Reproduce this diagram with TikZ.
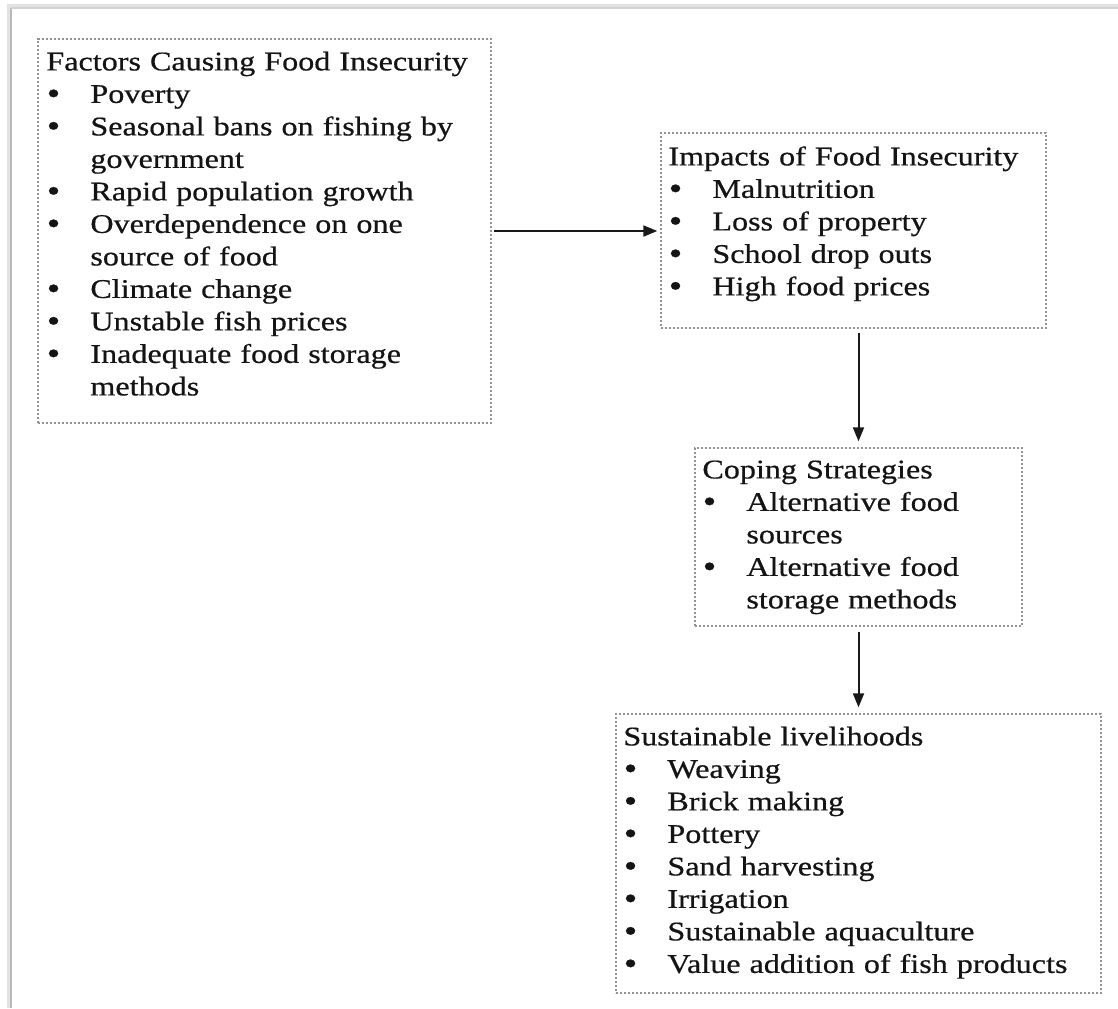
\documentclass[tikz,border=0pt]{standalone}
\usepackage{fontspec}
\setmainfont{Liberation Serif}[FakeStretch=1.19, FakeBold=0.6]
\usetikzlibrary{fit,arrows.meta}
\newcommand{\bl}{\makebox[22pt][l]{\hspace*{0.2pt}\raisebox{-0.6pt}{\scalebox{1.2}{\textbullet}}}}
\newcommand{\ind}{\hspace*{22pt}}
\tikzset{
  box/.style={draw=gray!85, line width=0.7pt, dash pattern=on 1.1pt off 0.9pt, inner sep=0pt},
  txt/.style={anchor=north west, inner sep=0pt, text width=330pt, align=left,
    font=\fontsize{13.5}{16.25}\selectfont, text=black!92},
  arr/.style={-{Triangle[length=7pt,width=5.5pt]}, line width=1pt, draw=black!90, fill=black!90},
  frameshadow/.style={draw=gray!22, line width=1.6pt},
  frameline/.style={draw=gray!55, line width=0.9pt}
}
\begin{document}
\begin{tikzpicture}[x=0.5pt,y=-0.5pt]
\useasboundingbox (0,0) rectangle (1118,1008);
\fill[white] (0,0) rectangle (1118,1008);
% outer page frame
\draw[frameshadow] (8.5,1008) -- (8.5,6) -- (1118,6);
\draw[frameline] (11,1008) -- (11,8);
\draw[draw=gray!35, line width=0.8pt] (11,8) -- (1118,8);
% boxes
\coordinate (b1a) at (38,39);   \coordinate (b1b) at (491,423);
\coordinate (b2a) at (661,133); \coordinate (b2b) at (1046,328);
\coordinate (b3a) at (695,448); \coordinate (b3b) at (1022,626);
\coordinate (b4a) at (616,714); \coordinate (b4b) at (1101,993);
\node[box, fit=(b1a)(b1b)] (b1) {};
\node[box, fit=(b2a)(b2b)] (b2) {};
\node[box, fit=(b3a)(b3b)] (b3) {};
\node[box, fit=(b4a)(b4b)] (b4) {};
% text anchors
\coordinate (t1) at (46,47.25);
\coordinate (t2) at (668,142.25);
\coordinate (t3) at (702,455.25);
\coordinate (t4) at (623,722.25);
\node[txt] (b1t) at (t1) {\strut Factors Causing Food Insecurity\\
\bl Poverty\\
\bl Seasonal bans on fishing by\\
\ind government\\
\bl Rapid population growth\\
\bl Overdependence on one\\
\ind source of food\\
\bl Climate change\\
\bl Unstable fish prices\\
\bl Inadequate food storage\\
\ind methods};
\node[txt] (b2t) at (t2) {\strut Impacts of Food Insecurity\\
\bl Malnutrition\\
\bl Loss of property\\
\bl School drop outs\\
\bl High food prices};
\node[txt] (b3t) at (t3) {\strut Coping Strategies\\
\bl Alternative food\\
\ind sources\\
\bl Alternative food\\
\ind storage methods};
\node[txt] (b4t) at (t4) {\strut Sustainable livelihoods\\
\bl Weaving\\
\bl Brick making\\
\bl Pottery\\
\bl Sand harvesting\\
\bl Irrigation\\
\bl Sustainable aquaculture\\
\bl Value addition of fish products};
% connectors
\draw[arr, shorten <=1pt, shorten >=1.5pt] (b1.east) -- (b1.east -| b2.west);
\draw[arr, shorten <=2.2pt, shorten >=3pt] (b2.south -| b3.north) -- (b3.north);
\draw[arr, shorten <=2.5pt, shorten >=3pt] (b3.south) -- (b4.north);
\end{tikzpicture}
\end{document}
